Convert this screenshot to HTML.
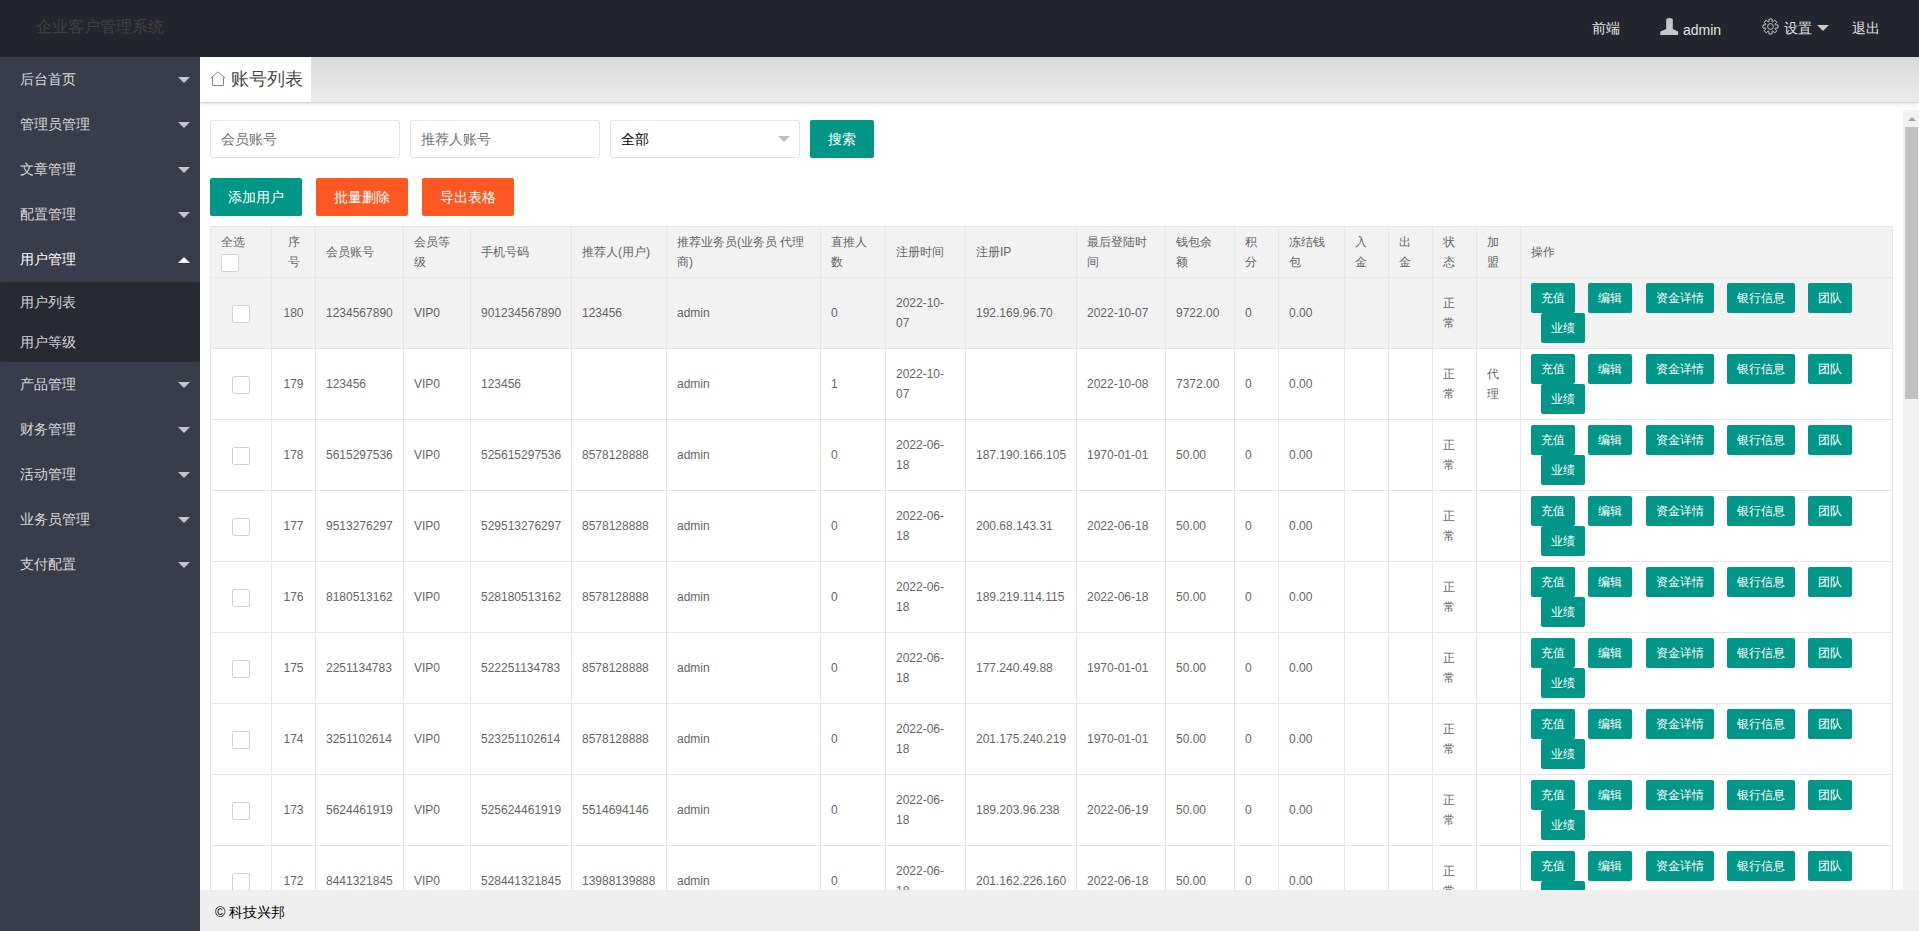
<!DOCTYPE html>
<html><head><meta charset="utf-8"><style>
*{margin:0;padding:0;box-sizing:border-box}
html,body{width:1919px;height:931px;overflow:hidden;background:#fff;font-family:"Liberation Sans",sans-serif;font-size:14px;color:#333}
.hd{position:absolute;left:0;top:0;width:1919px;height:57px;background:#23262E}
.logo{position:absolute;left:36px;top:17px;font-size:16px;line-height:20px;color:#433f3d;letter-spacing:0px}
.hn{position:absolute;top:18px;line-height:20px;font-size:14px;color:#e2e2e2}
.side{position:absolute;left:0;top:57px;width:200px;height:874px;background:#393D49;z-index:3}
.ni{position:relative;height:45px;line-height:45px;padding-left:20px;color:rgba(255,255,255,.8)}
.ni.act{color:#fff}
.dn{position:absolute;right:10px;top:20px;width:0;height:0;border-left:6px solid transparent;border-right:6px solid transparent;border-top:6px solid rgba(255,255,255,.7)}
.up{position:absolute;right:10px;top:20px;width:0;height:0;border-left:6px solid transparent;border-right:6px solid transparent;border-bottom:6px solid #fff}
.sub{background:rgba(0,0,0,.3);border-radius:2px}
.si{height:40px;line-height:40px;padding-left:20px;color:rgba(255,255,255,.8)}
.tabbar{position:absolute;left:200px;top:57px;width:1719px;height:45px;background:linear-gradient(#dbdbdb,#eaeaea);box-shadow:0 1px 1px rgba(0,0,0,.08),0 2px 5px rgba(0,0,0,.12);z-index:2}
.tab{position:absolute;left:0;top:0;width:111px;height:45px;background:#fff}
.tab .home{position:absolute;left:10px;top:14px}
.tab span{position:absolute;left:31px;top:10px;font-size:18px;line-height:24px;color:#484848}
.main{position:absolute;left:200px;top:102px;width:1719px;height:788px;background:#fff;overflow:hidden}
.frame{position:absolute;left:0;top:8px;width:1719px;height:780px;overflow:hidden}
.inner{padding:10px}
.inp{position:absolute;top:10px;height:38px;border:1px solid #e6e6e6;border-radius:2px;background:#fff;font-size:14px;line-height:36px;padding-left:10px;color:#757575}
.sel{color:#000}
.caret{position:absolute;right:9px;top:15px;width:0;height:0;border-left:6px solid transparent;border-right:6px solid transparent;border-top:6px solid #c2c2c2}
.btn{position:absolute;height:38px;line-height:38px;padding:0 18px;color:#fff;font-size:14px;border-radius:2px;background:#009688;white-space:nowrap}
.btn.o{background:#FF5722}
.tb{position:absolute;left:10px;top:116px;width:1683px;border-collapse:collapse;table-layout:fixed;font-size:12px;color:#666;background:#fff}
.tb th,.tb td{border:1px solid #e6e6e6;padding:5px 10px;line-height:20px;text-align:left;font-weight:normal;white-space:nowrap;vertical-align:middle}
.tb th{background:#f2f2f2}
.tb tr.hov td{background:#f2f2f2}
.tb td.c,.tb .cc{text-align:center}
.cb{display:inline-block;width:18px;height:18px;border:1px solid #d2d2d2;border-radius:2px;background:#fff;vertical-align:middle}
.hcb{vertical-align:-6px}
.b{display:inline-block;height:30px;line-height:30px;padding:0 10px;background:#009688;color:#fff;border-radius:2px;font-size:12px;vertical-align:top}
.b+.b{margin-left:10px}
.b2{margin-left:10px}
.sb{position:absolute;left:1703px;top:0;width:16px;height:780px;background:#f1f1f1}
.sb .th{position:absolute;left:2px;top:17px;width:13px;height:272px;background:#c1c1c1}
.sb .ar{position:absolute;left:5px;top:7px;width:0;height:0;border-left:4px solid transparent;border-right:4px solid transparent;border-bottom:4px solid #a3a3a3}
.ft{position:absolute;left:200px;top:890px;width:1719px;height:41px;background:#eee;line-height:44px;padding-left:15px;font-size:14px;color:#000}
</style></head><body>
<div class="hd">
<div class="logo">企业客户管理系统</div>
<div class="hn" style="left:1592px">前端</div>
<svg style="position:absolute;left:1660px;top:18px" width="19" height="17" viewBox="0 0 19 17"><path d="M6.2 1.8Q6.2 0 9.4 0Q12.8 0 12.8 1.8V11L17.6 13.2Q18.2 13.6 18.2 14.2V17H0.3V14.2Q0.3 13.6 0.9 13.2L6.2 11Z" fill="#c8c8cb"/></svg>
<div class="hn" style="left:1683px;top:20px">admin</div>
<svg style="position:absolute;left:1762.4px;top:18.4px" width="17" height="17" viewBox="0 0 17 17"><g fill="none" stroke="#c9c9c9" stroke-width="1" stroke-linejoin="round"><circle cx="8.5" cy="8.5" r="2.9"/><path d="M6.95 3.75L6.95 1.06A7.6 7.6 0 0 1 10.05 1.06L10.05 3.75A5.0 5.0 0 0 1 10.77 4.04L12.67 2.14A7.6 7.6 0 0 1 14.86 4.33L12.96 6.23A5.0 5.0 0 0 1 13.25 6.95L15.94 6.95A7.6 7.6 0 0 1 15.94 10.05L13.25 10.05A5.0 5.0 0 0 1 12.96 10.77L14.86 12.67A7.6 7.6 0 0 1 12.67 14.86L10.77 12.96A5.0 5.0 0 0 1 10.05 13.25L10.05 15.94A7.6 7.6 0 0 1 6.95 15.94L6.95 13.25A5.0 5.0 0 0 1 6.23 12.96L4.33 14.86A7.6 7.6 0 0 1 2.14 12.67L4.04 10.77A5.0 5.0 0 0 1 3.75 10.05L1.06 10.05A7.6 7.6 0 0 1 1.06 6.95L3.75 6.95A5.0 5.0 0 0 1 4.04 6.23L2.14 4.33A7.6 7.6 0 0 1 4.33 2.14L6.23 4.04A5.0 5.0 0 0 1 6.95 3.75Z"/></g></svg>
<div class="hn" style="left:1784px">设置</div>
<i style="position:absolute;left:1817px;top:25px;width:0;height:0;border-left:6px solid transparent;border-right:6px solid transparent;border-top:6px solid #c9c9c9"></i>
<div class="hn" style="left:1852px">退出</div>
</div>
<div class="side"><div class="ni"><span>后台首页</span><i class="dn"></i></div><div class="ni"><span>管理员管理</span><i class="dn"></i></div><div class="ni"><span>文章管理</span><i class="dn"></i></div><div class="ni"><span>配置管理</span><i class="dn"></i></div><div class="ni act"><span>用户管理</span><i class="up"></i></div><div class="sub"><div class="si">用户列表</div><div class="si">用户等级</div></div><div class="ni"><span>产品管理</span><i class="dn"></i></div><div class="ni"><span>财务管理</span><i class="dn"></i></div><div class="ni"><span>活动管理</span><i class="dn"></i></div><div class="ni"><span>业务员管理</span><i class="dn"></i></div><div class="ni"><span>支付配置</span><i class="dn"></i></div></div>
<div class="tabbar"><div class="tab"><svg class="home" width="16" height="15" viewBox="0 0 16 15"><path d="M0.6 7.2L8 0.9l7.4 6.3M2.5 5.6v8.9h11V5.6" fill="none" stroke="#8a8a8a" stroke-width="1"/></svg><span>账号列表</span></div></div>
<div class="main"><div class="frame">
<div class="inp" style="left:10px;width:190px">会员账号</div>
<div class="inp" style="left:210px;width:190px">推荐人账号</div>
<div class="inp sel" style="left:410px;width:190px">全部<i class="caret"></i></div>
<a class="btn" style="left:610px;top:10px;padding:0;width:64px;text-align:center">搜索</a>
<a class="btn" style="left:10px;top:68px">添加用户</a>
<a class="btn o" style="left:116px;top:68px">批量删除</a>
<a class="btn o" style="left:222px;top:68px">导出表格</a>
<table class="tb"><colgroup><col style="width:61px"><col style="width:44px"><col style="width:88px"><col style="width:67px"><col style="width:101px"><col style="width:95px"><col style="width:154px"><col style="width:65px"><col style="width:80px"><col style="width:111px"><col style="width:89px"><col style="width:69px"><col style="width:44px"><col style="width:66px"><col style="width:44px"><col style="width:44px"><col style="width:44px"><col style="width:44px"><col style="width:372px"></colgroup><thead><tr><th>全选<br><i class='cb hcb'></i></th><th class="cc">序<br>号</th><th>会员账号</th><th>会员等<br>级</th><th>手机号码</th><th>推荐人(用户)</th><th>推荐业务员(业务员 代理<br>商)</th><th>直推人<br>数</th><th>注册时间</th><th>注册IP</th><th>最后登陆时<br>间</th><th>钱包余<br>额</th><th>积<br>分</th><th>冻结钱<br>包</th><th>入<br>金</th><th>出<br>金</th><th>状<br>态</th><th>加<br>盟</th><th>操作</th></tr></thead><tbody><tr class="hov"><td class="c"><i class="cb"></i></td><td class="cc">180</td><td>1234567890</td><td>VIP0</td><td>901234567890</td><td>123456</td><td>admin</td><td>0</td><td>2022-10-<br>07</td><td>192.169.96.70</td><td>2022-10-07</td><td>9722.00</td><td>0</td><td>0.00</td><td></td><td></td><td>正<br>常</td><td></td><td class="ops"><a class="b">充值</a> <a class="b">编辑</a> <a class="b">资金详情</a> <a class="b">银行信息</a> <a class="b">团队</a><br><a class="b b2">业绩</a></td></tr><tr><td class="c"><i class="cb"></i></td><td class="cc">179</td><td>123456</td><td>VIP0</td><td>123456</td><td></td><td>admin</td><td>1</td><td>2022-10-<br>07</td><td></td><td>2022-10-08</td><td>7372.00</td><td>0</td><td>0.00</td><td></td><td></td><td>正<br>常</td><td>代<br>理</td><td class="ops"><a class="b">充值</a> <a class="b">编辑</a> <a class="b">资金详情</a> <a class="b">银行信息</a> <a class="b">团队</a><br><a class="b b2">业绩</a></td></tr><tr><td class="c"><i class="cb"></i></td><td class="cc">178</td><td>5615297536</td><td>VIP0</td><td>525615297536</td><td>8578128888</td><td>admin</td><td>0</td><td>2022-06-<br>18</td><td>187.190.166.105</td><td>1970-01-01</td><td>50.00</td><td>0</td><td>0.00</td><td></td><td></td><td>正<br>常</td><td></td><td class="ops"><a class="b">充值</a> <a class="b">编辑</a> <a class="b">资金详情</a> <a class="b">银行信息</a> <a class="b">团队</a><br><a class="b b2">业绩</a></td></tr><tr><td class="c"><i class="cb"></i></td><td class="cc">177</td><td>9513276297</td><td>VIP0</td><td>529513276297</td><td>8578128888</td><td>admin</td><td>0</td><td>2022-06-<br>18</td><td>200.68.143.31</td><td>2022-06-18</td><td>50.00</td><td>0</td><td>0.00</td><td></td><td></td><td>正<br>常</td><td></td><td class="ops"><a class="b">充值</a> <a class="b">编辑</a> <a class="b">资金详情</a> <a class="b">银行信息</a> <a class="b">团队</a><br><a class="b b2">业绩</a></td></tr><tr><td class="c"><i class="cb"></i></td><td class="cc">176</td><td>8180513162</td><td>VIP0</td><td>528180513162</td><td>8578128888</td><td>admin</td><td>0</td><td>2022-06-<br>18</td><td>189.219.114.115</td><td>2022-06-18</td><td>50.00</td><td>0</td><td>0.00</td><td></td><td></td><td>正<br>常</td><td></td><td class="ops"><a class="b">充值</a> <a class="b">编辑</a> <a class="b">资金详情</a> <a class="b">银行信息</a> <a class="b">团队</a><br><a class="b b2">业绩</a></td></tr><tr><td class="c"><i class="cb"></i></td><td class="cc">175</td><td>2251134783</td><td>VIP0</td><td>522251134783</td><td>8578128888</td><td>admin</td><td>0</td><td>2022-06-<br>18</td><td>177.240.49.88</td><td>1970-01-01</td><td>50.00</td><td>0</td><td>0.00</td><td></td><td></td><td>正<br>常</td><td></td><td class="ops"><a class="b">充值</a> <a class="b">编辑</a> <a class="b">资金详情</a> <a class="b">银行信息</a> <a class="b">团队</a><br><a class="b b2">业绩</a></td></tr><tr><td class="c"><i class="cb"></i></td><td class="cc">174</td><td>3251102614</td><td>VIP0</td><td>523251102614</td><td>8578128888</td><td>admin</td><td>0</td><td>2022-06-<br>18</td><td>201.175.240.219</td><td>1970-01-01</td><td>50.00</td><td>0</td><td>0.00</td><td></td><td></td><td>正<br>常</td><td></td><td class="ops"><a class="b">充值</a> <a class="b">编辑</a> <a class="b">资金详情</a> <a class="b">银行信息</a> <a class="b">团队</a><br><a class="b b2">业绩</a></td></tr><tr><td class="c"><i class="cb"></i></td><td class="cc">173</td><td>5624461919</td><td>VIP0</td><td>525624461919</td><td>5514694146</td><td>admin</td><td>0</td><td>2022-06-<br>18</td><td>189.203.96.238</td><td>2022-06-19</td><td>50.00</td><td>0</td><td>0.00</td><td></td><td></td><td>正<br>常</td><td></td><td class="ops"><a class="b">充值</a> <a class="b">编辑</a> <a class="b">资金详情</a> <a class="b">银行信息</a> <a class="b">团队</a><br><a class="b b2">业绩</a></td></tr><tr><td class="c"><i class="cb"></i></td><td class="cc">172</td><td>8441321845</td><td>VIP0</td><td>528441321845</td><td>13988139888</td><td>admin</td><td>0</td><td>2022-06-<br>18</td><td>201.162.226.160</td><td>2022-06-18</td><td>50.00</td><td>0</td><td>0.00</td><td></td><td></td><td>正<br>常</td><td></td><td class="ops"><a class="b">充值</a> <a class="b">编辑</a> <a class="b">资金详情</a> <a class="b">银行信息</a> <a class="b">团队</a><br><a class="b b2">业绩</a></td></tr></tbody></table>
<div class="sb"><i class="ar"></i><div class="th"></div></div>
</div></div>
<div class="ft">© 科技兴邦</div>
</body></html>
